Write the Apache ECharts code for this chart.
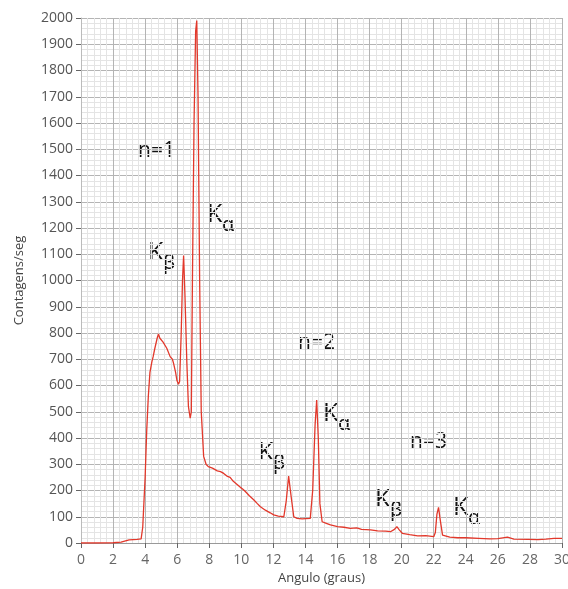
<!DOCTYPE html>
<html>
<head>
<meta charset="utf-8">
<style>
  html, body { margin: 0; padding: 0; background: #fff; }
  #chart { width: 568px; height: 589px; }
</style>
<script src="https://cdn.jsdelivr.net/npm/echarts@6/dist/echarts.min.js"></script>
</head>
<body>
<div id="chart"></div>
<script>
// espectro de raios X: ângulo (graus) vs contagens/seg
const angles = [
  0, 1, 2, 2.5, 2.6, 3.0, 3.5, 3.75, 3.85, 4.0, 4.1, 4.2, 4.3, 4.42, 4.5, 4.6, 4.75, 4.83, 4.92, 5.04,
  5.12, 5.2, 5.35, 5.45, 5.56, 5.7, 5.77, 5.9, 5.98, 6.08, 6.15, 6.25, 6.33, 6.4, 6.48, 6.6, 6.7, 6.81,
  6.88, 6.95, 7.05, 7.15, 7.22, 7.3, 7.4, 7.5, 7.65, 7.8, 7.94, 8.2, 8.5, 8.7, 8.9, 9.1, 9.3, 9.5, 9.7,
  9.94, 10.1, 10.25, 10.5, 10.77, 11.0, 11.19, 11.5, 11.8, 12.02, 12.3, 12.65, 12.8, 12.95, 13.0, 13.1,
  13.27, 13.48, 13.8, 14.0, 14.3, 14.45, 14.6, 14.7, 14.8, 14.9, 15.04, 15.3, 15.56, 16.0, 16.4, 16.8,
  17.2, 17.5, 18.06, 18.5, 19.0, 19.3, 19.55, 19.7, 19.85, 20.04, 20.5, 21.0, 21.5, 22.0, 22.1, 22.2,
  22.3, 22.4, 22.55, 23.0, 23.5, 24.0, 24.8, 25.5, 26.0, 26.6, 27.0, 27.9, 28.5, 29.0, 29.5, 30.0
];
const counts = [
  0, 0, 1, 3, 8, 12, 14, 16, 60, 250, 430, 560, 650, 690, 710, 740, 780, 796, 780, 775,
  765, 768, 742, 735, 710, 700, 685, 650, 620, 605, 615, 800, 1000, 1095, 950, 690, 520, 476,
  500, 1000, 1600, 1950, 1990, 1700, 1000, 500, 330, 300, 291, 285, 275, 272, 265, 255, 250, 235, 225,
  212, 205, 196, 180, 165, 150, 138, 125, 115, 107, 102, 100, 160, 255, 260, 180,
  100, 94, 92, 93, 94, 200, 450, 545, 400, 150, 81, 75, 69, 62, 60, 56,
  58, 52, 50, 46, 45, 43, 52, 62, 50, 37, 32, 27, 28, 24, 40, 110,
  136, 90, 30, 22, 20, 20, 18, 16, 17, 22, 15, 14, 13, 15, 18, 18
];

// rótulos: [texto, x, y] e [letra, subscrito, x, y]
const orderLabels = [
  ["n=1", 138, 155],
  ["n=2", 298, 347],
  ["n=3", 410, 446]
];
const lineLabels = [
  ["K", "β", 148, 257],
  ["K", "α", 207, 219],
  ["K", "β", 258, 457],
  ["K", "α", 323, 418],
  ["K", "β", 375, 504],
  ["K", "α", 453, 512]
];

const chart = echarts.init(document.getElementById("chart"));

const graphics = [];
orderLabels.forEach(([text, x, y]) => {
  graphics.push({
    type: "text",
    left: x, top: y - 14,
    style: { text, font: "21px 'Open Sans'", fill: "#111" }
  });
});
lineLabels.forEach(([k, sub, x, y]) => {
  graphics.push({
    type: "text",
    left: x, top: y - 17,
    style: { text: k, font: "25px 'Open Sans'", fill: "#111" }
  });
  graphics.push({
    type: "text",
    left: x + 15, top: y - 4,
    style: { text: sub, font: "20px 'Noto Sans'", fill: "#111" }
  });
});

chart.setOption({
  animation: false,
  grid: { left: 81, right: 6, top: 18, bottom: 46, outerBoundsMode: "none", containLabel: false },
  xAxis: {
    type: "value",
    min: 0, max: 30, interval: 2,
    name: "Angulo (graus)",
    nameLocation: "middle",
    nameGap: 29,
    nameTextStyle: { color: "#444", fontSize: 13, fontFamily: "Open Sans" },
    axisLine: { show: true, lineStyle: { color: "#999" } },
    axisTick: { show: true, length: 5, lineStyle: { color: "#666" } },
    axisLabel: { color: "#666", fontSize: 14, fontFamily: "Open Sans", margin: 10 },
    splitLine: { show: true, lineStyle: { color: "#b4b4b4", width: 1 } },
    minorTick: { show: false, splitNumber: 5 },
    minorSplitLine: { show: true, lineStyle: { color: "#e4e4e4", width: 1 } }
  },
  yAxis: {
    type: "value",
    min: 0, max: 2000, interval: 100,
    name: "Contagens/seg",
    nameLocation: "middle",
    nameGap: 55,
    nameTextStyle: { color: "#444", fontSize: 13, fontFamily: "Open Sans" },
    axisLine: { show: true, lineStyle: { color: "#bbb" } },
    axisTick: { show: true, inside: false, length: 5, lineStyle: { color: "#666" } },
    axisLabel: { color: "#555", fontSize: 14, fontFamily: "Open Sans", margin: 8, formatter: (v) => String(v) },
    splitLine: { show: true, lineStyle: { color: "#b4b4b4", width: 1 } },
    minorTick: { show: false, splitNumber: 5 },
    minorSplitLine: { show: true, lineStyle: { color: "#e4e4e4", width: 1 } }
  },
  series: [
    {
      type: "line",
      data: angles.map((a, i) => [a, counts[i]]),
      showSymbol: false,
      lineStyle: { color: "#e2382b", width: 1.3 },
      z: 5
    }
  ],
  graphic: graphics
});
</script>
</body>
</html>
